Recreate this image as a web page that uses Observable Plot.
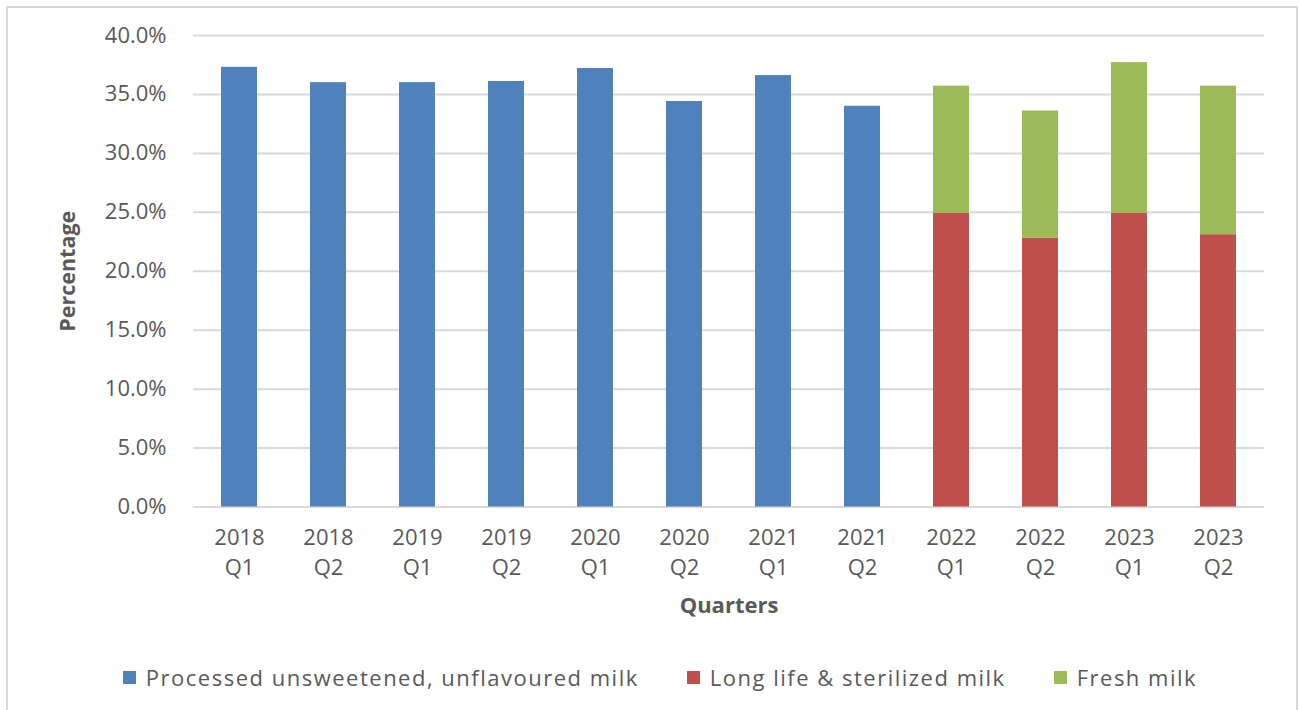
<!DOCTYPE html>
<html>
<head>
<meta charset="utf-8">
<script src="https://cdn.jsdelivr.net/npm/d3@7"></script>
<script src="https://cdn.jsdelivr.net/npm/@observablehq/plot@0.6"></script>
<style>
  html, body { margin: 0; padding: 0; background: #fff; }
  #wrap { position: relative; width: 1300px; height: 710px; overflow: hidden; font-family: "Open Sans", sans-serif; }
  #frame { position: absolute; left: 6px; top: 6px; width: 1288px; height: 720px; border: 2px solid #d9d9d9; }
  #chart { position: absolute; left: 0; top: 0; }
  #legend { position: absolute; left: 0; top: 662px; width: 1300px; display: flex; justify-content: center; padding-left: 20px; box-sizing: border-box; color: #595959; font-size: 22px; letter-spacing: 1.5px; }
  .item { display: flex; align-items: center; margin: 0 24px; }
  .swatch { width: 13px; height: 13px; margin-right: 10px; }
</style>
</head>
<body>
<div id="wrap">
  <div id="frame"></div>
  <div id="chart"></div>
  <div id="legend"></div>
</div>
<script>
// Quarter categories along the x axis
const quarters = ["2018 Q1", "2018 Q2", "2019 Q1", "2019 Q2", "2020 Q1", "2020 Q2",
                  "2021 Q1", "2021 Q2", "2022 Q1", "2022 Q2", "2023 Q1", "2023 Q2"];

// Series names and colours
const seriesNames = ["Processed unsweetened, unflavoured milk", "Long life & sterilized milk", "Fresh milk"];
const seriesColors = ["#4F81BD", "#C0504D", "#9BBB59"];

// Shares in percent (null where the series is not reported)
const processed = [37.3, 36.0, 36.0, 36.1, 37.2, 34.4, 36.6, 34.0, null, null, null, null];
const longLife  = [null, null, null, null, null, null, null, null, 24.9, 22.8, 24.9, 23.1];
const fresh     = [null, null, null, null, null, null, null, null, 10.8, 10.8, 12.8, 12.6];

// Y axis ticks
const yTicks = [0, 5, 10, 15, 20, 25, 30, 35, 40];

// Long table for stacking, in series order
const seriesValues = [processed, longLife, fresh];
const rows = [];
quarters.forEach((q, i) => {
  seriesNames.forEach((s, k) => {
    const v = seriesValues[k][i];
    if (v != null) rows.push({quarter: q, series: s, value: v});
  });
});

const textColor = "#595959";
const font = "Open Sans, sans-serif";

const chart = Plot.plot({
  width: 1300,
  height: 640,
  marginLeft: 193,
  marginRight: 36,
  marginTop: 35,
  marginBottom: 133.5,
  style: {fontFamily: font, color: textColor, background: "transparent", overflow: "visible"},
  x: {domain: quarters, paddingInner: 0.6, paddingOuter: 0.3, label: null},
  y: {domain: [0, 40], label: null},
  color: {domain: seriesNames, range: seriesColors},
  marks: [
    Plot.gridY(yTicks, {stroke: "#d9d9d9", strokeOpacity: 1, strokeWidth: 2}),
    Plot.barY(rows, {x: "quarter", y: "value", fill: "series"}),
    Plot.axisY(yTicks, {
      tickSize: 0, tickPadding: 27, fontSize: 22, fill: textColor, letterSpacing: 1.5,
      tickFormat: d => d.toFixed(1) + "%", label: null
    }),
    Plot.axisX({
      tickSize: 0, tickPadding: 17, fontSize: 22, fill: textColor, lineHeight: 1.36, letterSpacing: 1.5,
      tickFormat: d => d.replace(" ", "\n"), label: null
    }),
    Plot.text(["Percentage"], {
      frameAnchor: "left", textAnchor: "middle", dx: -125, rotate: -90,
      fontSize: 21.5, fontWeight: "bold", fill: textColor
    }),
    Plot.text(["Quarters"], {
      frameAnchor: "bottom", textAnchor: "middle", dy: 106,
      fontSize: 22, fontWeight: "bold", fill: textColor, letterSpacing: 2
    })
  ]
});
document.getElementById("chart").appendChild(chart);

// Legend below the chart
const legend = document.getElementById("legend");
seriesNames.forEach((s, k) => {
  const item = document.createElement("div");
  item.className = "item";
  const sw = document.createElement("span");
  sw.className = "swatch";
  sw.style.background = seriesColors[k];
  const label = document.createElement("span");
  label.textContent = s;
  item.appendChild(sw);
  item.appendChild(label);
  legend.appendChild(item);
});
</script>
</body>
</html>
